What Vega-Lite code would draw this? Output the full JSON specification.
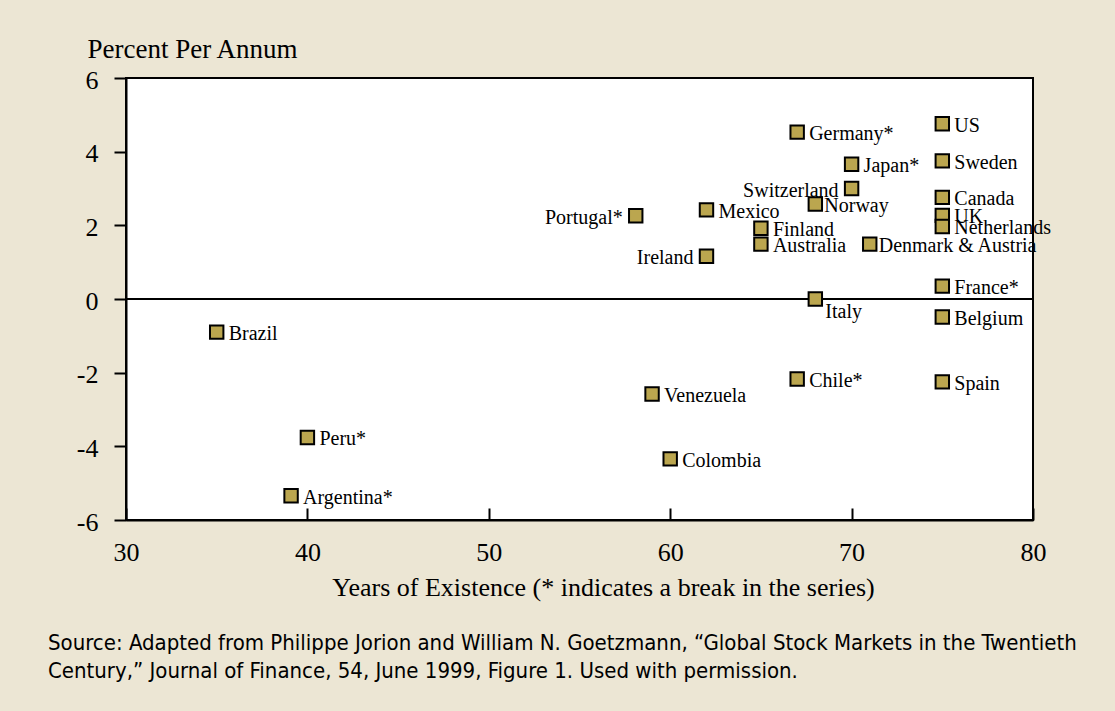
{
  "$schema": "https://vega.github.io/schema/vega-lite/v6.json",
  "width": 907,
  "height": 442,
  "autosize": {"type": "none"},
  "padding": {"left": 126, "top": 78, "right": 82, "bottom": 191},
  "background": "#ece6d4",
  "config": {
    "view": {"fill": "white", "stroke": "black", "strokeWidth": 2},
    "axis": {"grid": false, "domainColor": "black", "domainWidth": 2, "tickColor": "black", "tickWidth": 2, "labelColor": "black", "titleColor": "black", "labelFont": "Liberation Serif", "titleFont": "Liberation Serif", "titleFontWeight": "normal"}
  },
  "title": {
    "text": ["Source: Adapted from Philippe Jorion and William N. Goetzmann, “Global Stock Markets in the Twentieth", "Century,” Journal of Finance, 54, June 1999, Figure 1. Used with permission."],
    "orient": "bottom",
    "anchor": "start",
    "frame": "group",
    "dx": -78,
    "offset": 33,
    "font": "Liberation Sans Narrow, DejaVu Sans Condensed, sans-serif",
    "fontSize": 22,
    "fontWeight": "normal",
    "lineHeight": 28,
    "color": "black"
  },
  "data": {
    "values": [
      {"country": "US", "years": 75, "ret": 4.76},
      {"country": "Sweden", "years": 75, "ret": 3.75},
      {"country": "Canada", "years": 75, "ret": 2.76},
      {"country": "UK", "years": 75, "ret": 2.27},
      {"country": "Netherlands", "years": 75, "ret": 1.97},
      {"country": "France*", "years": 75, "ret": 0.35},
      {"country": "Belgium", "years": 75, "ret": -0.49},
      {"country": "Spain", "years": 75, "ret": -2.25},
      {"country": "Germany*", "years": 67, "ret": 4.53},
      {"country": "Japan*", "years": 70, "ret": 3.66},
      {"country": "Switzerland", "years": 70, "ret": 3.0},
      {"country": "Norway", "years": 68, "ret": 2.58},
      {"country": "Mexico", "years": 62, "ret": 2.42},
      {"country": "Portugal*", "years": 58.1, "ret": 2.26},
      {"country": "Finland", "years": 65, "ret": 1.92},
      {"country": "Australia", "years": 65, "ret": 1.49},
      {"country": "Denmark & Austria", "years": 71, "ret": 1.49},
      {"country": "Ireland", "years": 62, "ret": 1.16},
      {"country": "Italy", "years": 68, "ret": 0.0},
      {"country": "Brazil", "years": 35, "ret": -0.9},
      {"country": "Chile*", "years": 67, "ret": -2.17},
      {"country": "Venezuela", "years": 59, "ret": -2.58},
      {"country": "Peru*", "years": 40, "ret": -3.76},
      {"country": "Colombia", "years": 60, "ret": -4.34},
      {"country": "Argentina*", "years": 39.1, "ret": -5.34}
    ]
  },
  "encoding": {
    "x": {
      "field": "years", "type": "quantitative",
      "scale": {"domain": [30, 80], "nice": false, "zero": false},
      "axis": {
        "values": [30, 40, 50, 60, 70, 80],
        "tickSize": -12,
        "labelPadding": 44,
        "labelBaseline": "middle",
        "labelFontSize": 26,
        "labelFlush": false,
        "title": "Years of Existence (* indicates a break in the series)",
        "titleFontSize": 26,
        "titleX": 477,
        "titleY": 67,
        "titleAlign": "center",
        "titleBaseline": "middle"
      }
    },
    "y": {
      "field": "ret", "type": "quantitative",
      "scale": {"domain": [-6, 6], "nice": false},
      "axis": {
        "values": [-6, -4, -2, 0, 2, 4, 6],
        "labelExpr": "'' + datum.value",
        "tickSize": 12,
        "labelPadding": 16,
        "labelFontSize": 26,
        "labelBaseline": "middle",
        "labelOffset": 2,
        "labelFlush": false,
        "title": "Percent Per Annum",
        "titleAngle": 0,
        "titleAlign": "left",
        "titleBaseline": "alphabetic",
        "titleX": -39,
        "titleY": -21,
        "titleFontSize": 27
      }
    }
  },
  "layer": [
    {
      "mark": {"type": "rule", "color": "black", "strokeWidth": 2},
      "encoding": {"y": {"datum": 0}, "x": null}
    },
    {
      "mark": {"type": "point", "shape": "square", "filled": true, "fill": "#bba64f", "stroke": "black", "strokeWidth": 2, "size": 180, "opacity": 1}
    },
    {
      "transform": [{"filter": "indexof(['Portugal*', 'Switzerland', 'Ireland', 'Italy', 'Norway', 'Denmark & Austria'], datum.country) < 0"}],
      "mark": {"type": "text", "align": "left", "baseline": "middle", "dx": 12, "dy": 2, "font": "Liberation Serif", "fontSize": 20, "color": "black"},
      "encoding": {"text": {"field": "country"}}
    },
    {
      "transform": [{"filter": "indexof(['Norway', 'Denmark & Austria'], datum.country) >= 0"}],
      "mark": {"type": "text", "align": "left", "baseline": "middle", "dx": 9, "dy": 2, "font": "Liberation Serif", "fontSize": 20, "color": "black"},
      "encoding": {"text": {"field": "country"}}
    },
    {
      "transform": [{"filter": "indexof(['Portugal*', 'Switzerland', 'Ireland'], datum.country) >= 0"}],
      "mark": {"type": "text", "align": "right", "baseline": "middle", "dx": -13, "dy": 2, "font": "Liberation Serif", "fontSize": 20, "color": "black"},
      "encoding": {"text": {"field": "country"}}
    },
    {
      "transform": [{"filter": "datum.country === 'Italy'"}],
      "mark": {"type": "text", "align": "left", "baseline": "middle", "dx": 10, "dy": 13, "font": "Liberation Serif", "fontSize": 20, "color": "black"},
      "encoding": {"text": {"field": "country"}}
    }
  ]
}
